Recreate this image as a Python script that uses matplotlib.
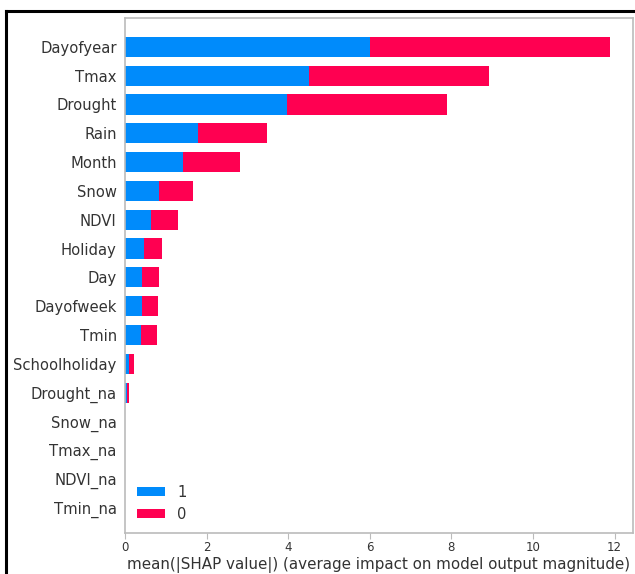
import matplotlib
matplotlib.use("Agg")
import matplotlib.pyplot as plt
import numpy as np

features = ["Dayofyear", "Tmax", "Drought", "Rain", "Month", "Snow", "NDVI",
            "Holiday", "Day", "Dayofweek", "Tmin", "Schoolholiday", "Drought_na",
            "Snow_na", "Tmax_na", "NDVI_na", "Tmin_na"]
class1 = [6.00, 4.50, 3.98, 1.78, 1.43, 0.83, 0.64, 0.47, 0.41, 0.41, 0.39, 0.10, 0.04,
          0.0, 0.0, 0.0, 0.0]
class0 = [5.89, 4.41, 3.91, 1.71, 1.39, 0.83, 0.65, 0.43, 0.42, 0.41, 0.39, 0.11, 0.05,
          0.0, 0.0, 0.0, 0.0]
xticks = [0, 2, 4, 6, 8, 10, 12]
xlabel = "mean(|SHAP value|) (average impact on model output magnitude)"
legend_labels = ["1", "0"]

blue = "#008bfb"
red = "#ff0051"
grey_text = "#333333"
spine_col = "#bbbbbb"

fig = plt.figure(figsize=(6.35, 5.74), dpi=100)
W, H = 635, 574
ax = fig.add_axes([125 / W, 1 - 533 / H, (633 - 125) / W, (533 - 18) / H])

n = len(features)
y = np.arange(n)[::-1]
ax.barh(y, class1, 0.7, color=blue, label=legend_labels[0])
ax.barh(y, class0, 0.7, left=class1, color=red, label=legend_labels[1])

ax.set_yticks(y)
ax.set_yticklabels(features, fontsize=10.6, color=grey_text)
ax.tick_params(axis="y", length=0, pad=6)
ax.set_xticks(xticks)
ax.set_xticklabels([str(t) for t in xticks], fontsize=8.5, color=grey_text)
ax.tick_params(axis="x", length=4, color=spine_col, pad=2)
ax.set_xlim(0, 12.45)
ax.set_ylim(-0.87, n - 1 + 1.0)
ax.set_xlabel(xlabel, fontsize=10.9, color=grey_text, labelpad=2)
for s in ax.spines.values():
    s.set_color(spine_col)
    s.set_linewidth(1.2)

ax.legend(loc="lower left", frameon=False, fontsize=10.6, labelcolor=grey_text,
          handlelength=1.9, handleheight=0.6, borderaxespad=0.0,
          bbox_to_anchor=(0.013, 0.01))

# outer black frame (screenshot border)
fig.add_artist(plt.Line2D([5.5 / W, 5.5 / W], [0, 1 - 10.5 / H], color="black", lw=2.2,
                          transform=fig.transFigure))
fig.add_artist(plt.Line2D([5.5 / W, 1], [1 - 10.5 / H, 1 - 10.5 / H], color="black", lw=2.2,
                          transform=fig.transFigure))

fig.savefig("out.png", dpi=100)
